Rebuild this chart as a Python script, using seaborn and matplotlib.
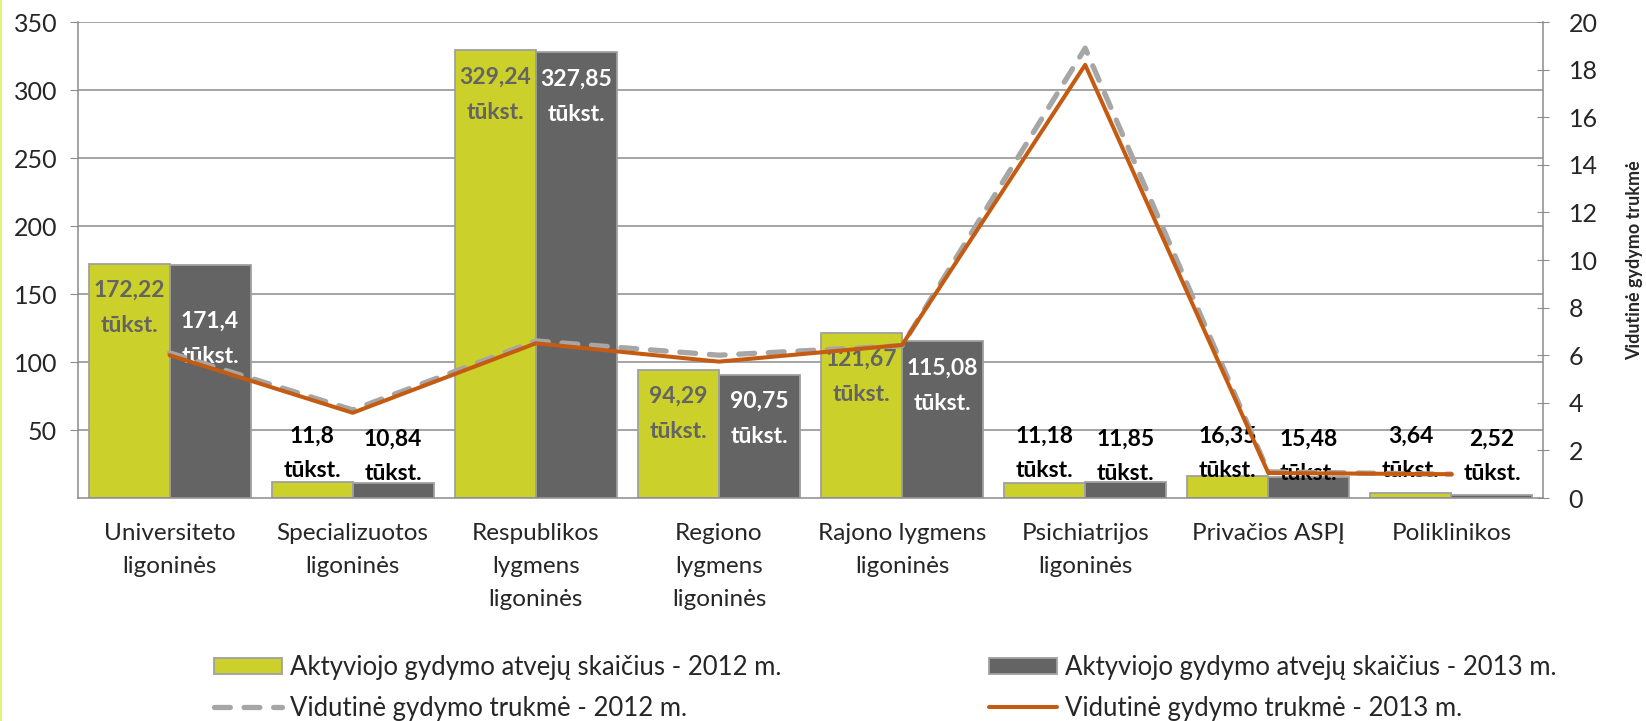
import pandas as pd
import seaborn as sns
import matplotlib.pyplot as plt
from matplotlib.lines import Line2D
from matplotlib.patches import Patch

# =========================
# DATA
# =========================
categories = ['Universiteto\nligoninės', 'Specializuotos\nligoninės',
              'Respublikos\nlygmens\nligoninės', 'Regiono\nlygmens\nligoninės',
              'Rajono lygmens\nligoninės', 'Psichiatrijos\nligoninės',
              'Privačios ASPĮ', 'Poliklinikos']

cases_2012 = [172.22, 11.8, 329.24, 94.29, 121.67, 11.18, 16.35, 3.64]
cases_2013 = [171.4, 10.84, 327.85, 90.75, 115.08, 11.85, 15.48, 2.52]

stay_2012 = [6.1, 3.7, 6.6, 6.0, 6.4, 18.9, 1.1, 1.0]
stay_2013 = [6.0, 3.58, 6.5, 5.73, 6.43, 18.2, 1.05, 1.0]

bar_names = ['Aktyviojo gydymo atvejų skaičius - 2012 m.',
             'Aktyviojo gydymo atvejų skaičius - 2013 m.']
line_names = ['Vidutinė gydymo trukmė - 2012 m.',
              'Vidutinė gydymo trukmė - 2013 m.']

# =========================
# STYLE
# =========================
sns.set_style('white')
plt.rcParams['font.family'] = ['Lato', 'DejaVu Sans']
plt.rcParams['font.size'] = 17

GREEN = '#CBD02A'
DARK = '#646464'
ORANGE = '#C55A11'
LIGHT = '#A6A6A6'
GRID = '#8C8C8C'

df = pd.DataFrame({
    'category': categories * 2,
    'value': cases_2012 + cases_2013,
    'series': [bar_names[0]] * len(categories) + [bar_names[1]] * len(categories),
})

fig = plt.figure(figsize=(16.46, 7.21), dpi=100)
ax = fig.add_axes([78 / 1646, 1 - 498 / 721, (1543 - 78) / 1646, (498 - 22) / 721])

# =========================
# BARS
# =========================
sns.barplot(data=df, x='category', y='value', hue='series', order=categories,
            palette=[GREEN, DARK], saturation=1, width=0.885, edgecolor='#A0A0A0',
            linewidth=1.3, ax=ax, legend=False, zorder=2)

ax.set_ylim(0, 350)
ax.set_xlim(-0.5, len(categories) - 0.5)
ax.set_yticks(range(50, 351, 50))
ax.yaxis.grid(True, color=GRID, linewidth=1.1, zorder=0)
ax.set_axisbelow(True)
ax.set_xlabel('')
ax.set_ylabel('')
for s in ['top', 'right']:
    ax.spines[s].set_visible(False)
for s in ['left', 'bottom']:
    ax.spines[s].set_color(GRID)
    ax.spines[s].set_linewidth(1.1)
ax.tick_params(axis='y', direction='out', length=6, color=GRID, pad=9, labelsize=18)
ax.tick_params(axis='x', which='major', length=0, pad=18, labelsize=17.5)
ax.set_xticks([i - 0.5 for i in range(len(categories) + 1)], minor=True)
ax.tick_params(axis='x', which='minor', direction='out', length=6, color=GRID)
for lab in ax.get_xticklabels():
    lab.set_linespacing(1.72)

# data labels
inside_colors = [DARK, 'white']
inside_offsets = [[-32, -32, -32, -32, -32, -32, -32, -32],
                  [-53, -32, -32, -32, -32, -32, -32, -32]]
for k, cont in enumerate(ax.containers):
    for i, bar in enumerate(cont):
        v = bar.get_height()
        xc = bar.get_x() + bar.get_width() / 2
        txt = f'{v:g}'.replace('.', ',') + '\ntūkst.'
        if v > 50:
            ax.annotate(txt, (xc, v), xytext=(0, inside_offsets[k][i]),
                        textcoords='offset points', ha='center', va='center',
                        fontsize=16.5, fontweight='bold', color=inside_colors[k],
                        linespacing=1.85, zorder=5)
        else:
            ax.annotate(txt, (xc, 0), xytext=(0, 32 - 2 * k),
                        textcoords='offset points', ha='center', va='center',
                        fontsize=16.5, fontweight='bold', color='black',
                        linespacing=1.75, zorder=5)

# =========================
# LINES (right axis)
# =========================
ax2 = ax.twinx()
x_pos = list(range(len(categories)))
sns.lineplot(x=x_pos, y=stay_2012, ax=ax2, color=LIGHT, linewidth=3.8,
             sort=False, zorder=3)
ax2.lines[-1].set_dashes((3, 2.6))
ax2.lines[-1].set_dash_capstyle('round')
sns.lineplot(x=x_pos, y=stay_2013, ax=ax2, color=ORANGE, linewidth=2.9,
             sort=False, zorder=4)
ax2.set_ylim(0, 20)
ax2.set_yticks(range(0, 21, 2))
ax2.tick_params(axis='y', direction='inout', length=9, color=GRID, pad=14, labelsize=18)
for s in ['top', 'left', 'bottom']:
    ax2.spines[s].set_visible(False)
ax2.spines['right'].set_color(GRID)
ax2.spines['right'].set_linewidth(1.1)
ax2.set_ylabel('Vidutinė gydymo trukmė', fontsize=13, fontweight='bold', labelpad=20)

# =========================
# LEGEND
# =========================
handles = [
    Patch(facecolor=GREEN, edgecolor='#A0A0A0', linewidth=1.3),
    Line2D([], [], color=LIGHT, linewidth=3.8, dashes=(3, 2.6), dash_capstyle='round'),
    Patch(facecolor=DARK, edgecolor='#A0A0A0', linewidth=1.3),
    Line2D([], [], color=ORANGE, linewidth=2.9),
]
labels = [bar_names[0], line_names[0], bar_names[1], line_names[1]]
fig.legend(handles, labels, ncol=2, loc='upper left',
           bbox_to_anchor=(214 / 1646, 1 - 655 / 721), frameon=False,
           borderpad=0, borderaxespad=0, handlelength=2.65, handleheight=0.6,
           handletextpad=0.3, labelspacing=0.62, columnspacing=8.1, fontsize=18.5)

# thin border line on the left edge
fig.add_artist(Line2D([0.0006, 0.0006], [0, 1], color='#E3F27A', linewidth=1.5,
                      transform=fig.transFigure))

plt.savefig('out.png', dpi=100)
